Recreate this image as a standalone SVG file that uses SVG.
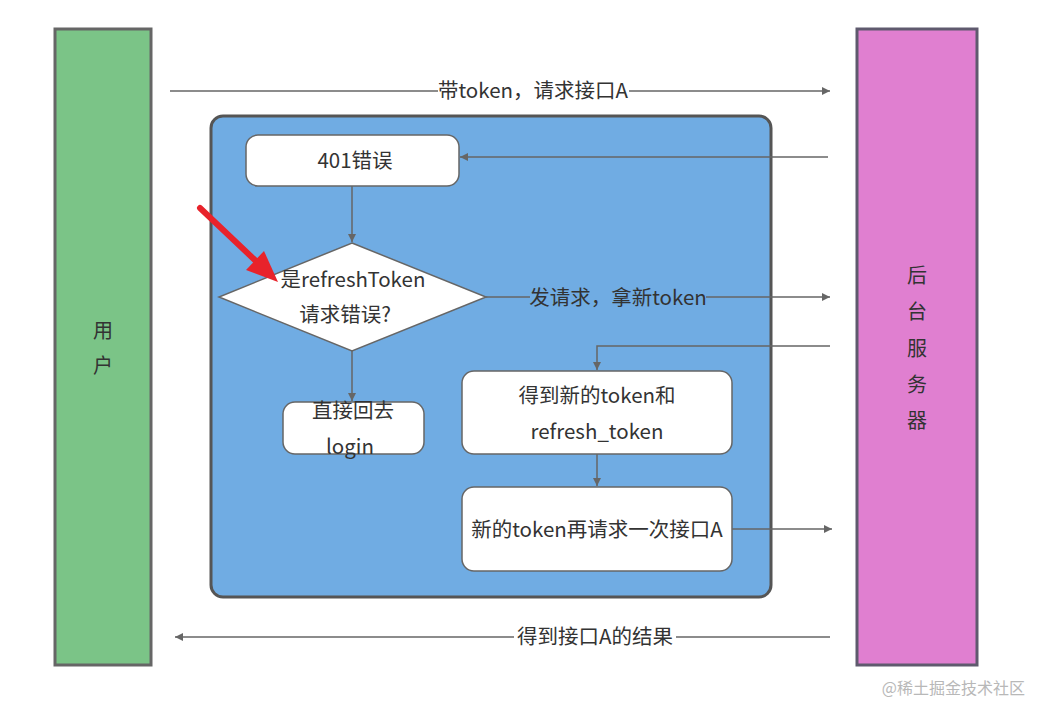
<svg xmlns="http://www.w3.org/2000/svg" width="1045" height="718" viewBox="0 0 1045 718">
<style>
text{font-family:"Noto Sans CJK SC","Noto Sans",sans-serif;font-size:20.5px;fill:#333}
.ln{stroke:#666;stroke-width:1.5;fill:none}
.box{fill:#fff;stroke:#666;stroke-width:1.5}
.mid{text-anchor:middle}
.v{font-size:20px}
.wm{font-size:16px;fill:#b8b8b8}
</style>
<defs>
<marker id="ah" viewBox="0 0 10 10" refX="10" refY="5" markerWidth="9" markerHeight="8" markerUnits="userSpaceOnUse" orient="auto"><path d="M0,0L10,5L0,10z" fill="#666"/></marker>
</defs>
<rect width="1045" height="718" fill="#fff"/>
<g id="user"><rect x="55" y="29" width="96" height="636" fill="#7bc487" stroke="#666" stroke-width="3"/><text class="mid v" x="103" y="338">用</text><text class="mid v" x="103" y="373">户</text></g>
<g id="server"><rect x="857" y="29" width="120" height="636" fill="#e07fd0" stroke="#5f5a6e" stroke-width="3"/>
<text class="mid v" x="917" y="283">后</text><text class="mid v" x="917" y="319">台</text><text class="mid v" x="917" y="356">服</text><text class="mid v" x="917" y="392">务</text><text class="mid v" x="917" y="428">器</text></g>
<g id="container"><rect x="211" y="116" width="560" height="481" rx="12" fill="#70ace3" stroke="#555" stroke-width="3"/></g>
<g id="err401"><rect class="box" x="246" y="135" width="213" height="51" rx="12"/><text class="mid" x="355" y="168">401错误</text></g>
<g id="decision"><polygon class="box" points="352,243 486,297 352,351 219,297"/><text class="mid" x="353" y="287">是refreshToken</text><text class="mid" x="345" y="322">请求错误?</text></g>
<g id="login"><rect class="box" x="283" y="402" width="141" height="52" rx="12"/><text class="mid" x="353" y="418">直接回去</text><text class="mid" x="350" y="454">login</text></g>
<g id="gettoken"><rect class="box" x="462" y="371" width="270" height="83" rx="12"/><text class="mid" x="597" y="403">得到新的token和</text><text class="mid" x="597" y="439">refresh_token</text></g>
<g id="retry"><rect class="box" x="462" y="487" width="270" height="84" rx="12"/><text class="mid" x="597" y="537">新的token再请求一次接口A</text></g>
<g id="connectors">
<line class="ln" x1="170" y1="91" x2="830" y2="91" marker-end="url(#ah)"/>
<rect x="438" y="78" width="191" height="26" fill="#fff"/>
<text class="mid" x="533" y="98">带token，请求接口A</text>
<line class="ln" x1="828" y1="157" x2="460" y2="157" marker-end="url(#ah)"/>
<line class="ln" x1="352" y1="186" x2="352" y2="242" marker-end="url(#ah)"/>
<line class="ln" x1="486" y1="297" x2="830" y2="297" marker-end="url(#ah)"/>
<rect x="530" y="285" width="176" height="26" fill="#70ace3"/>
<text class="mid" x="618" y="305">发请求，拿新token</text>
<line class="ln" x1="352" y1="351" x2="352" y2="401" marker-end="url(#ah)"/>
<polyline class="ln" points="830,346 597,346 597,370" marker-end="url(#ah)"/>
<line class="ln" x1="597" y1="454" x2="597" y2="486" marker-end="url(#ah)"/>
<line class="ln" x1="732" y1="529" x2="832" y2="529" marker-end="url(#ah)"/>
<line class="ln" x1="830" y1="637" x2="175" y2="637" marker-end="url(#ah)"/>
<rect x="514" y="624" width="162" height="26" fill="#fff"/>
<text class="mid" x="595" y="644">得到接口A的结果</text>
<g id="redarrow"><line x1="200" y1="208" x2="258" y2="263" stroke="#e8232b" stroke-width="6" stroke-linecap="round"/><polygon points="278,282 246,270 264,251" fill="#e8232b"/></g>
</g>
<text class="wm" x="1025" y="694" text-anchor="end">@稀土掘金技术社区</text>
</svg>
